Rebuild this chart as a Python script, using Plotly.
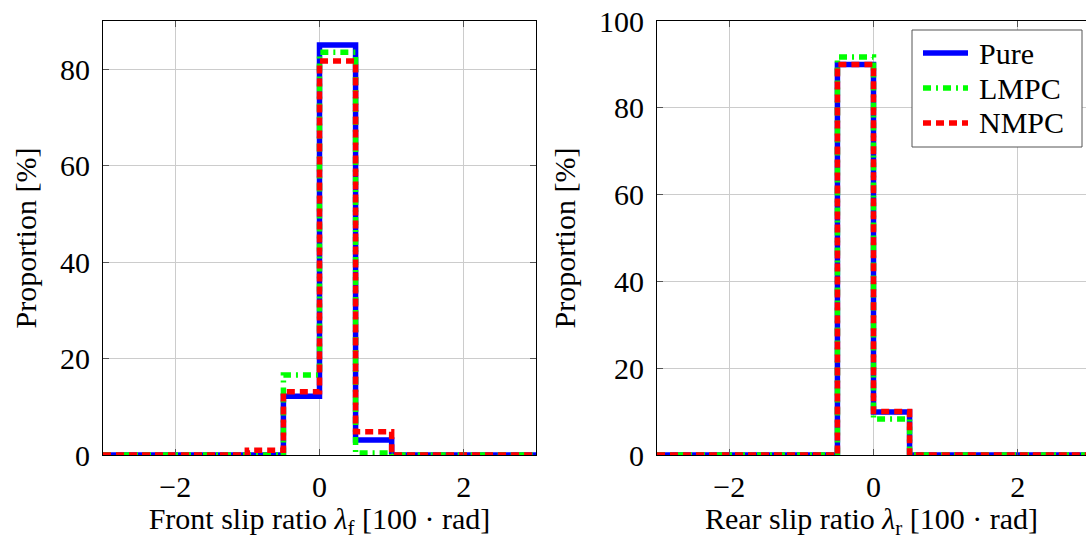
import plotly.graph_objects as go
from plotly.subplots import make_subplots

# Bin edges (slip ratio, 100*rad)
edges = [-3.0, -2.5, -2.0, -1.5, -1.0, -0.5, 0.0, 0.5, 1.0, 1.5, 2.0, 2.5, 3.0]

# Front slip ratio histogram (%)
front_pure = [0, 0, 0, 0, 0.0, 12.2, 85.0, 3.1, 0, 0, 0, 0]
front_lmpc = [0, 0, 0, 0, 0.0, 16.6, 83.5, 0.4, 0, 0, 0, 0]
front_nmpc = [0, 0, 0, 0, 1.0, 13.1, 81.7, 4.8, 0, 0, 0, 0]

# Rear slip ratio histogram (%)
rear_pure = [0, 0, 0, 0, 0, 90.0, 9.9, 0, 0, 0, 0, 0]
rear_lmpc = [0, 0, 0, 0, 0, 91.7, 8.3, 0, 0, 0, 0, 0]
rear_nmpc = [0, 0, 0, 0, 0, 90.0, 10.0, 0, 0, 0, 0, 0]

series_names = ["Pure", "LMPC", "NMPC"]
colors = ["#0000ff", "#00ff00", "#ff0000"]
dashes = ["solid", "8px,5px,2px,5px", "8px,5px"]

FONT = "Liberation Serif"
FS = 30
LW = 5.5

W, H = 1086, 540
ML, MR, MT, MB = 103, 0, 21, 85
pw = W - ML - MR
ph = H - MT - MB


def px_x(p):
    return (p - ML) / pw


def px_y(p):
    return (H - MB - p) / ph


fig = make_subplots(rows=1, cols=2)

front = [front_pure, front_lmpc, front_nmpc]
rear = [rear_pure, rear_lmpc, rear_nmpc]

for i, name in enumerate(series_names):
    fig.add_trace(go.Scatter(
        x=edges, y=front[i] + [front[i][-1]], mode="lines", line_shape="hv",
        line=dict(color=colors[i], width=LW, dash=dashes[i]),
        name=name, showlegend=False), row=1, col=1)
for i, name in enumerate(series_names):
    fig.add_trace(go.Scatter(
        x=edges, y=rear[i] + [rear[i][-1]], mode="lines", line_shape="hv",
        line=dict(color=colors[i], width=LW, dash=dashes[i]),
        name=name, showlegend=False), row=1, col=2)

left_dom = [0, px_x(536)]
right_dom = [px_x(657), 1.0]
px_per_unit = (536 - 103) / 6.0
right_max = -3 + (W - 657) / px_per_unit

axis_common = dict(
    showgrid=True, gridcolor="#cccccc", gridwidth=1,
    showline=True, linecolor="black", linewidth=1,
    ticks="inside", ticklen=6, tickcolor="#555555", tickwidth=1,
    zeroline=False, tickfont=dict(family=FONT, size=FS, color="black"),
)

title_font = dict(family=FONT, size=FS, color="black")

fig.update_xaxes(**axis_common, mirror="ticks", range=[-3, 3], tickvals=[-2, 0, 2],
                 domain=left_dom, ticklabelstandoff=5,
                 title=dict(text="Front slip ratio <i>λ</i><sub>f</sub> [100 · rad]",
                            font=title_font, standoff=12),
                 row=1, col=1)
fig.update_xaxes(**axis_common, mirror="ticks", range=[-3, right_max], tickvals=[-2, 0, 2],
                 domain=right_dom, ticklabelstandoff=5,
                 title=dict(text="Rear slip ratio <i>λ</i><sub>r</sub> [100 · rad]",
                            font=title_font, standoff=12),
                 row=1, col=2)
fig.update_yaxes(**axis_common, mirror="ticks", range=[0, 90], tickvals=[0, 20, 40, 60, 80],
                 ticklabelstandoff=6,
                 title=dict(text="Proportion [%]", font=title_font, standoff=14),
                 row=1, col=1)
fig.update_yaxes(**axis_common, mirror=False, range=[0, 100], tickvals=[0, 20, 40, 60, 80, 100],
                 ticklabelstandoff=6,
                 title=dict(text="Proportion [%]", font=title_font, standoff=14),
                 row=1, col=2)

# Legend box drawn in paper coordinates (upper right of rear plot)
shapes = [dict(type="rect", xref="paper", yref="paper",
               x0=px_x(912), x1=px_x(1082), y0=px_y(147), y1=px_y(30),
               fillcolor="white", line=dict(color="#555555", width=1), layer="above")]
annotations = []
entry_y = [53, 88, 123]
for i, name in enumerate(series_names):
    shapes.append(dict(type="line", xref="paper", yref="paper",
                       x0=px_x(923), x1=px_x(968), y0=px_y(entry_y[i]), y1=px_y(entry_y[i]),
                       line=dict(color=colors[i], width=LW, dash=dashes[i]), layer="above"))
    annotations.append(dict(xref="paper", yref="paper", x=px_x(977), y=px_y(entry_y[i]),
                            text=name, showarrow=False, xanchor="left", yanchor="middle",
                            font=dict(family=FONT, size=FS, color="black")))

fig.update_layout(
    width=W, height=H,
    margin=dict(l=ML, r=MR, t=MT, b=MB, pad=0),
    paper_bgcolor="white", plot_bgcolor="white",
    font=dict(family=FONT, size=FS, color="black"),
    showlegend=False,
    shapes=shapes, annotations=annotations,
)

fig.write_html("out.html")
